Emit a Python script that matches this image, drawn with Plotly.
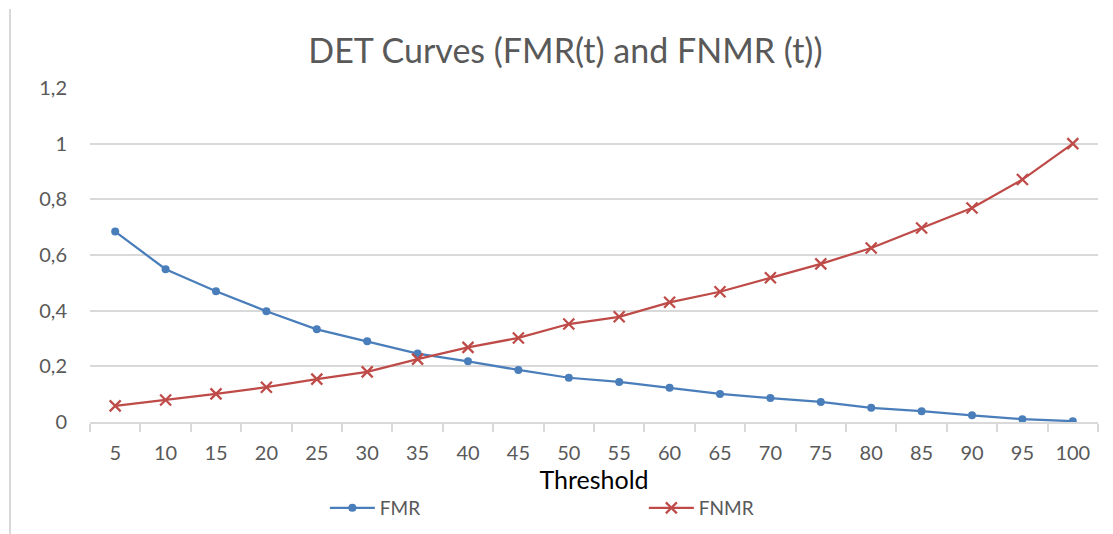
import plotly.graph_objects as go

thresholds = [5, 10, 15, 20, 25, 30, 35, 40, 45, 50, 55, 60, 65, 70, 75, 80, 85, 90, 95, 100]
fmr = [0.684, 0.549, 0.470, 0.398, 0.333, 0.290, 0.246, 0.218, 0.187, 0.159, 0.144, 0.123, 0.101, 0.086, 0.072, 0.051, 0.039, 0.024, 0.010, 0.003]
fnmr = [0.058, 0.079, 0.101, 0.125, 0.154, 0.180, 0.226, 0.268, 0.302, 0.352, 0.378, 0.430, 0.468, 0.518, 0.568, 0.625, 0.697, 0.769, 0.871, 1.0]
y_ticks = [0, 0.2, 0.4, 0.6, 0.8, 1, 1.2]
x_labels = [str(t) for t in thresholds]

GRID = "#d9d9d9"
TXT = "#595959"
FONT = "Lato"

fig = go.Figure()
fig.add_trace(go.Scatter(
    x=x_labels, y=fmr, name="FMR", mode="lines+markers",
    line=dict(color="#4A7EBB", width=2.25),
    marker=dict(symbol="circle", size=8, color="#4A7EBB"),
))
fig.add_trace(go.Scatter(
    x=x_labels, y=fnmr, name="FNMR", mode="lines+markers",
    line=dict(color="#BE4B48", width=2.25),
    marker=dict(symbol="x-thin", size=11, color="#BE4B48",
                line=dict(color="#BE4B48", width=2.25)),
))

fig.update_layout(
    width=1113, height=534,
    margin=dict(l=90, r=15, t=88, b=112, autoexpand=False),
    paper_bgcolor="white", plot_bgcolor="white",
    separators=", ",
    font=dict(family=FONT, color=TXT, size=20),
    title=dict(text="DET Curves (FMR(t) and FNMR (t))", x=0.508, xanchor="center",
               y=0.905, yanchor="middle", font=dict(size=34, color=TXT, family=FONT)),
    showlegend=True,
    legend=dict(orientation="h", x=0.233, xanchor="left", y=-0.2575, yanchor="middle",
                entrywidth=259, entrywidthmode="pixels", itemwidth=45,
                font=dict(size=19, color=TXT, family=FONT), bgcolor="rgba(0,0,0,0)"),
    xaxis=dict(
        type="category", range=[-0.5, 19.5], automargin=False,
        showline=True, linecolor=GRID, linewidth=2,
        ticks="outside", tickson="boundaries", ticklen=8, tickcolor=GRID, tickwidth=2,
        showgrid=False, ticklabelstandoff=12,
        tickfont=dict(size=20, color=TXT, family=FONT),
        title=dict(text="Threshold", font=dict(size=25, color="black", family=FONT), standoff=8),
        fixedrange=True,
    ),
    yaxis=dict(
        range=[0, 1.2], tickvals=y_ticks, automargin=False,
        ticktext=[("%g" % v).replace(".", ",") for v in y_ticks],
        showgrid=True, gridcolor=GRID, gridwidth=2,
        zeroline=False, showline=False, ticks="",
        ticklabelstandoff=22,
        tickfont=dict(size=20, color=TXT, family=FONT),
        fixedrange=True,
    ),
    shapes=[dict(type="line", xref="paper", yref="paper",
                 x0=-80/1008, x1=-80/1008, y0=1 + 79/334, y1=-112/334,
                 line=dict(color=GRID, width=2))],
)

fig.write_html("out.html")
